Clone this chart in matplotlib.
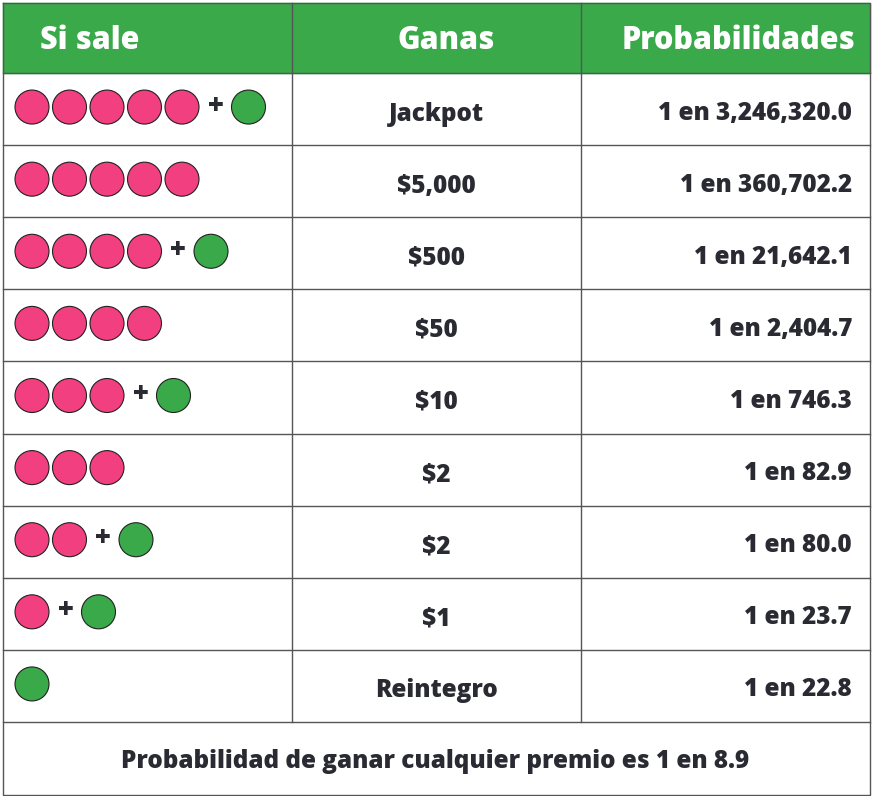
import matplotlib
matplotlib.use("Agg")
import matplotlib.pyplot as plt
from matplotlib.patches import Rectangle, Circle

headers = ["Si sale", "Ganas", "Probabilidades"]
pink_counts = [5, 5, 4, 4, 3, 3, 2, 1, 0]
green_flags = [1, 0, 1, 0, 1, 0, 1, 1, 1]
prizes = ["Jackpot", "$5,000", "$500", "$50", "$10", "$2", "$2", "$1", "Reintegro"]
odds = ["1 en 3,246,320.0", "1 en 360,702.2", "1 en 21,642.1", "1 en 2,404.7",
        "1 en 746.3", "1 en 82.9", "1 en 80.0", "1 en 23.7", "1 en 22.8"]
footer = "Probabilidad de ganar cualquier premio es 1 en 8.9"

W, H = 873, 796
fig = plt.figure(figsize=(W/100, H/100), dpi=100)
ax = fig.add_axes([0, 0, 1, 1])
ax.set_xlim(0, W); ax.set_ylim(H, 0); ax.axis("off")

GREEN = "#39a949"; PINK = "#f23f80"; TXT = "#2a2a33"; LINE = "#555555"
font = "Open Sans"
x0, x1, x2, x3 = 3, 292, 581, 870
top, hb = 3, 73
rh = (722 - hb) / 9
bot = 795

ax.add_patch(Rectangle((x0, top), x3-x0, hb-top, color=GREEN, zorder=1))
hs = dict(color="white", fontsize=22, fontweight="heavy", family=font, va="center")
ax.text(40, 41, headers[0], ha="left", **hs)
ax.text((x1+x2)/2 + 10, 41, headers[1], ha="center", **hs)
ax.text(855, 41, headers[2], ha="right", **hs)

lw = 1.0
ax.plot([x0, x3, x3, x0, x0], [top, top, bot, bot, top], color=LINE, lw=lw)
for i in range(10):
    y = hb + i*rh
    ax.plot([x0, x3], [y, y], color=LINE, lw=lw)
for x in (x1, x2):
    ax.plot([x, x], [top, 722], color=LINE, lw=lw, zorder=2)

ts = dict(fontsize=17.5, fontweight="heavy", family=font, color=TXT, va="center")
r = 17
for i in range(9):
    yc = hb + (i+0.5)*rh
    cx = 32
    for k in range(pink_counts[i]):
        ax.add_patch(Circle((cx, yc - 2), r, facecolor=PINK, edgecolor="#222222", lw=0.8))
        cx += 37.5
    if green_flags[i]:
        if pink_counts[i] > 0:
            ax.text(cx - 4, yc - 3, "+", fontsize=20, fontweight="heavy", family=font,
                    color=TXT, ha="center", va="center")
            cx += 29
        ax.add_patch(Circle((cx, yc - 2), r, facecolor=GREEN, edgecolor="#222222", lw=0.8))
    ax.text((x1+x2)/2, yc + 5, prizes[i], ha="center", **ts)
    ax.text(852, yc + 4, odds[i], ha="right", **ts)

ax.text(W/2 - 1, 762, footer, ha="center", **ts)

fig.savefig("out.png", dpi=100)
